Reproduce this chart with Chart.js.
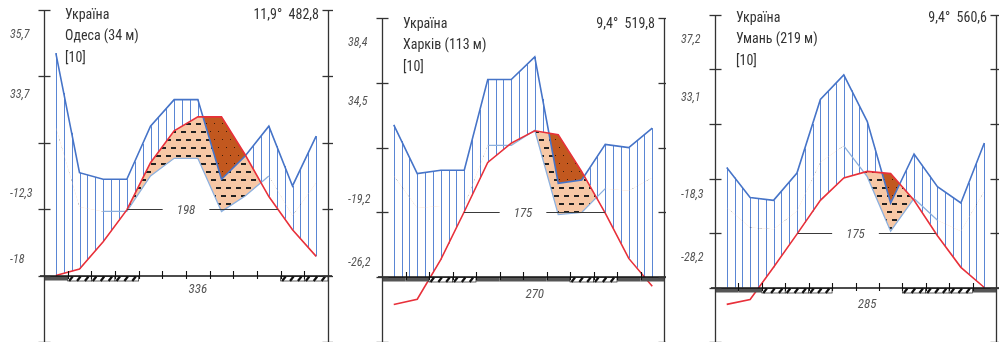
<!DOCTYPE html>
<html><head><meta charset="utf-8">
<script src="https://cdn.jsdelivr.net/npm/chart.js@4.4.0/dist/chart.umd.min.js"></script>
<style>
html,body{margin:0;padding:0;background:#fff;width:999px;height:342px;overflow:hidden}
.panel{position:absolute;top:0;height:342px;width:333px}
canvas{display:block}
</style></head><body>
<div class="panel" style="left:0"><canvas id="c0" width="333" height="342"></canvas></div>
<div class="panel" style="left:333px"><canvas id="c1" width="333" height="342"></canvas></div>
<div class="panel" style="left:666px"><canvas id="c2" width="333" height="342"></canvas></div>
<script>
// ---- data ----
const months = ['I','II','III','IV','V','VI','VII','VIII','IX','X','XI','XII'];

const odesaTemp = [0.0, 1.0, 5.1, 9.9, 17.0, 21.8, 23.9, 23.9, 18.2, 11.9, 6.9, 2.9];
const odesaPrec = [67, 31, 29, 29, 45, 53, 53, 29, 36, 45, 27, 42];
const odesaFrost = ['g','h','h','h','','','','','','','h','h'];
const odesaSide = ['35,7','33,7','-12,3','-18'];
const odesaTitle = ['Україна','Одеса (34 м)','[10]'];
const odesaTop = '11,9°  482,8';
const odesaDays = ['198','336'];

const kharkivTemp = [-4.2, -3.4, 2.7, 10.1, 17.7, 20.7, 22.6, 22.0, 16.3, 9.9, 2.9, -1.4];
const kharkivPrec = [47, 32, 33, 33, 61, 61, 68, 29, 30, 41, 40, 46];
const kharkivFrost = ['g','g','h','h','g','g','g','g','h','h','g','g'];
const kharkivSide = ['38,4','34,5','-19,2','-26,2'];
const kharkivTitle = ['Україна','Харків (113 м)','[10]'];
const kharkivTop = '9,4°  519,8';
const kharkivDays = ['175','270'];

const umanTemp = [-3.1, -2.2, 3.7, 9.8, 16.0, 20.1, 21.3, 20.9, 16.0, 9.5, 3.7, 0.0];
const umanPrec = [44, 33, 32, 42, 69, 78, 61, 31, 49, 37, 31, 53];
const umanFrost = ['g','g','h','h','h','','','','h','h','h','g'];
const umanSide = ['37,2','33,1','-18,3','-28,2'];
const umanTitle = ['Україна','Умань (219 м)','[10]'];
const umanTop = '9,4°  560,6';
const umanDays = ['175','285'];

// ---- styles ----
const C_DARK = '#4674c8', C_HATCH = '#5a86d4', C_LIGHT = '#8cb0de', C_RED = '#e8303a';
const FONT_T = '"Liberation Sans Narrow","Roboto Condensed","Arial Narrow",Roboto,sans-serif';

function makePattern(w,h,bg,draw){
  const c=document.createElement('canvas');c.width=w;c.height=h;
  const g=c.getContext('2d');g.fillStyle=bg;g.fillRect(0,0,w,h);draw(g);
  return g.createPattern(c,'repeat');
}
const orangePat = makePattern(10,16,'#f7c8a6',g=>{
  g.fillStyle='#222';
  g.fillRect(1,3,5,2); g.fillRect(6,11,5,2); g.fillRect(-4,11,5,2);
});
const brownPat = makePattern(8,16,'#c2581f',g=>{
  g.fillStyle='#3a1a08';
  g.fillRect(2,3,1,1); g.fillRect(6,11,1,1);
});

const decorPlugin = {
  id:'decor',
  beforeDatasetsDraw(chart){
    const o=chart.options.plugins.decor, ctx=chart.ctx;
    const xs=chart.scales.x, ys=chart.scales.y;
    const T=o.temp, P=o.prec;
    ctx.save();
    ctx.strokeStyle=C_HATCH; ctx.lineWidth=1;
    for(let k=0;k<=33;k++){
      const x=0.5+k/3;
      let i=Math.floor(x-0.5); if(i>10)i=10;
      const f=x-0.5-i;
      const pv=(P[i]+(P[i+1]-P[i])*f)/2;
      const tv=T[i]+(T[i+1]-T[i])*f;
      const low=Math.max(tv,0);
      if(pv>low){
        const px=Math.round(xs.getPixelForValue(x))+0.5;
        ctx.beginPath();ctx.moveTo(px,ys.getPixelForValue(pv));ctx.lineTo(px,ys.getPixelForValue(low));ctx.stroke();
      }
    }
    ctx.restore();
  },
  afterDatasetsDraw(chart){
    const o=chart.options.plugins.decor, ctx=chart.ctx;
    const xs=chart.scales.x, ys=chart.scales.y, a=chart.chartArea;
    const T=o.temp;
    const X=v=>xs.getPixelForValue(v), Y=v=>ys.getPixelForValue(v);
    const y0=Math.round(Y(0));
    ctx.save();
    // 10 deg line
    let xa=null,xb=null;
    for(let i=0;i<11;i++){
      if(T[i]<10&&T[i+1]>=10&&xa===null) xa=i+0.5+(10-T[i])/(T[i+1]-T[i]);
      if(T[i]>=10&&T[i+1]<10) xb=i+0.5+(T[i]-10)/(T[i]-T[i+1]);
    }
    const y10=Math.round(Y(10))+0.5;
    ctx.font='italic 13px '+FONT_T;
    const lx=X(6), lw=ctx.measureText(o.days[0]).width;
    ctx.strokeStyle='#3a3a3a';ctx.lineWidth=1;
    ctx.beginPath();
    ctx.moveTo(X(xa),y10);ctx.lineTo(lx-lw/2-14,y10);
    ctx.moveTo(lx+lw/2+14,y10);ctx.lineTo(X(xb),y10);
    ctx.stroke();
    ctx.fillStyle='#555';ctx.textAlign='center';ctx.textBaseline='middle';
    ctx.fillText(o.days[0],lx,y10+1);
    ctx.fillText(o.days[1],X(6.5),y0+o.daysDy);
    // frost bars
    for(let i=0;i<12;i++){
      const x1=X(i), x2=X(i+1);
      if(o.frost[i]==='g'){
        ctx.fillStyle='#555';ctx.fillRect(x1,y0,x2-x1,4.5);
      } else if(o.frost[i]==='h'){
        ctx.fillStyle='#fff';ctx.fillRect(x1,y0,x2-x1,5);
        ctx.strokeStyle='#222';ctx.lineWidth=0.7;ctx.strokeRect(x1,y0+0.5,x2-x1,4.5);
        ctx.strokeStyle='#111';ctx.lineWidth=2.2;
        const w=(x2-x1)/3;
        for(let s=0;s<3;s++){
          const sx=x1+s*w+1.5;
          ctx.beginPath();ctx.moveTo(sx,y0+5);ctx.lineTo(sx+3.5,y0+0.5);ctx.stroke();
        }
      }
    }
    // zero axis
    ctx.strokeStyle='#111';ctx.lineWidth=1.6;
    ctx.beginPath();ctx.moveTo(a.left-4,y0);ctx.lineTo(a.right+4,y0);ctx.stroke();
    ctx.lineWidth=1.1;
    for(let i=1;i<12;i++){
      const px=Math.round(X(i))+0.5;
      ctx.beginPath();ctx.moveTo(px,y0-5);ctx.lineTo(px,y0+3);ctx.stroke();
    }
    // side axes
    ctx.strokeStyle='#333';ctx.lineWidth=1.3;
    [a.left,a.right].forEach(ax=>{
      const px=Math.round(ax)+0.5;
      ctx.beginPath();ctx.moveTo(px,a.top);ctx.lineTo(px,a.bottom);ctx.stroke();
      for(let v=-10;v<=o.ymax;v+=10){
        const py=Math.round(Y(v))+0.5;
        ctx.beginPath();ctx.moveTo(px-6,py);ctx.lineTo(px+6,py);ctx.stroke();
      }
    });
    // side labels
    ctx.font='italic 12px '+FONT_T;ctx.fillStyle='#555';ctx.textAlign='left';
    o.side.forEach((s,i)=>ctx.fillText(s,a.left-34,o.sideY[i]));
    // titles
    ctx.font='14px '+FONT_T;ctx.fillStyle='#333';
    o.title.forEach((s,i)=>ctx.fillText(s,a.left+21,o.titleY+i*21.5));
    ctx.textAlign='right';
    ctx.fillText(o.top,a.right-9,o.titleY);
    ctx.restore();
  }
};

function makePanel(id,temp,prec,lightRange,ymax,pad,frost,side,sideY,title,titleY,top,days,daysDy){
  const pt=(arr,f)=>arr.map((v,i)=>({x:i+0.5,y:f(v,i)}));
  const lightAll=pt(prec,v=>v/3);
  const darkPts=pt(prec,v=>v/2);
  const lightVis=pt(prec,(v,i)=>(i>=lightRange[0]&&i<=lightRange[1])?v/3:null);
  const tPts=pt(temp,v=>v);
  const base={pointRadius:0,tension:0,borderJoinStyle:'miter'};
  new Chart(document.getElementById(id),{
    type:'line',
    data:{datasets:[
      Object.assign({label:'p3',data:lightAll,borderWidth:0,borderColor:'rgba(0,0,0,0)',fill:false,order:9},base),
      Object.assign({label:'p2',data:darkPts,borderWidth:0,borderColor:'rgba(0,0,0,0)',fill:false,order:8},base),
      Object.assign({label:'semi',data:tPts,borderWidth:0,borderColor:'rgba(0,0,0,0)',fill:{target:0,above:orangePat,below:'rgba(0,0,0,0)'},order:7},base),
      Object.assign({label:'arid',data:tPts,borderWidth:0,borderColor:'rgba(0,0,0,0)',fill:{target:1,above:brownPat,below:'rgba(0,0,0,0)'},order:6},base),
      Object.assign({label:'light',data:lightVis,borderWidth:1.3,borderColor:C_LIGHT,fill:false,spanGaps:false,order:3},base),
      Object.assign({label:'prec',data:darkPts,borderWidth:1.6,borderColor:C_DARK,fill:false,order:2},base),
      Object.assign({label:'temp',data:tPts,borderWidth:1.6,borderColor:C_RED,fill:false,order:1},base)
    ]},
    options:{
      responsive:false,animation:false,devicePixelRatio:1,
      layout:{padding:pad},
      scales:{
        x:{type:'linear',min:0,max:12,display:false},
        y:{type:'linear',min:-10,max:ymax,display:false}
      },
      plugins:{legend:{display:false},tooltip:{enabled:false},
        decor:{temp,prec,ymax,frost,side,sideY,title,titleY,top,days,daysDy}}
    },
    plugins:[decorPlugin]
  });
}

makePanel('c0',odesaTemp,odesaPrec,[2,9],40,{left:44,right:5,top:10,bottom:0},
  odesaFrost,odesaSide,[35,95,194,260],odesaTitle,15,odesaTop,odesaDays,14);
makePanel('c1',kharkivTemp,kharkivPrec,[4,9],40,{left:49,right:2,top:18,bottom:0},
  kharkivFrost,kharkivSide,[43,102,200,263],kharkivTitle,24,kharkivTop,kharkivDays,18);
makePanel('c2',umanTemp,umanPrec,[5,9],50,{left:49,right:3,top:15,bottom:0},
  umanFrost,umanSide,[40,98,195,258],umanTitle,18,umanTop,umanDays,17);
</script>
</body></html>
